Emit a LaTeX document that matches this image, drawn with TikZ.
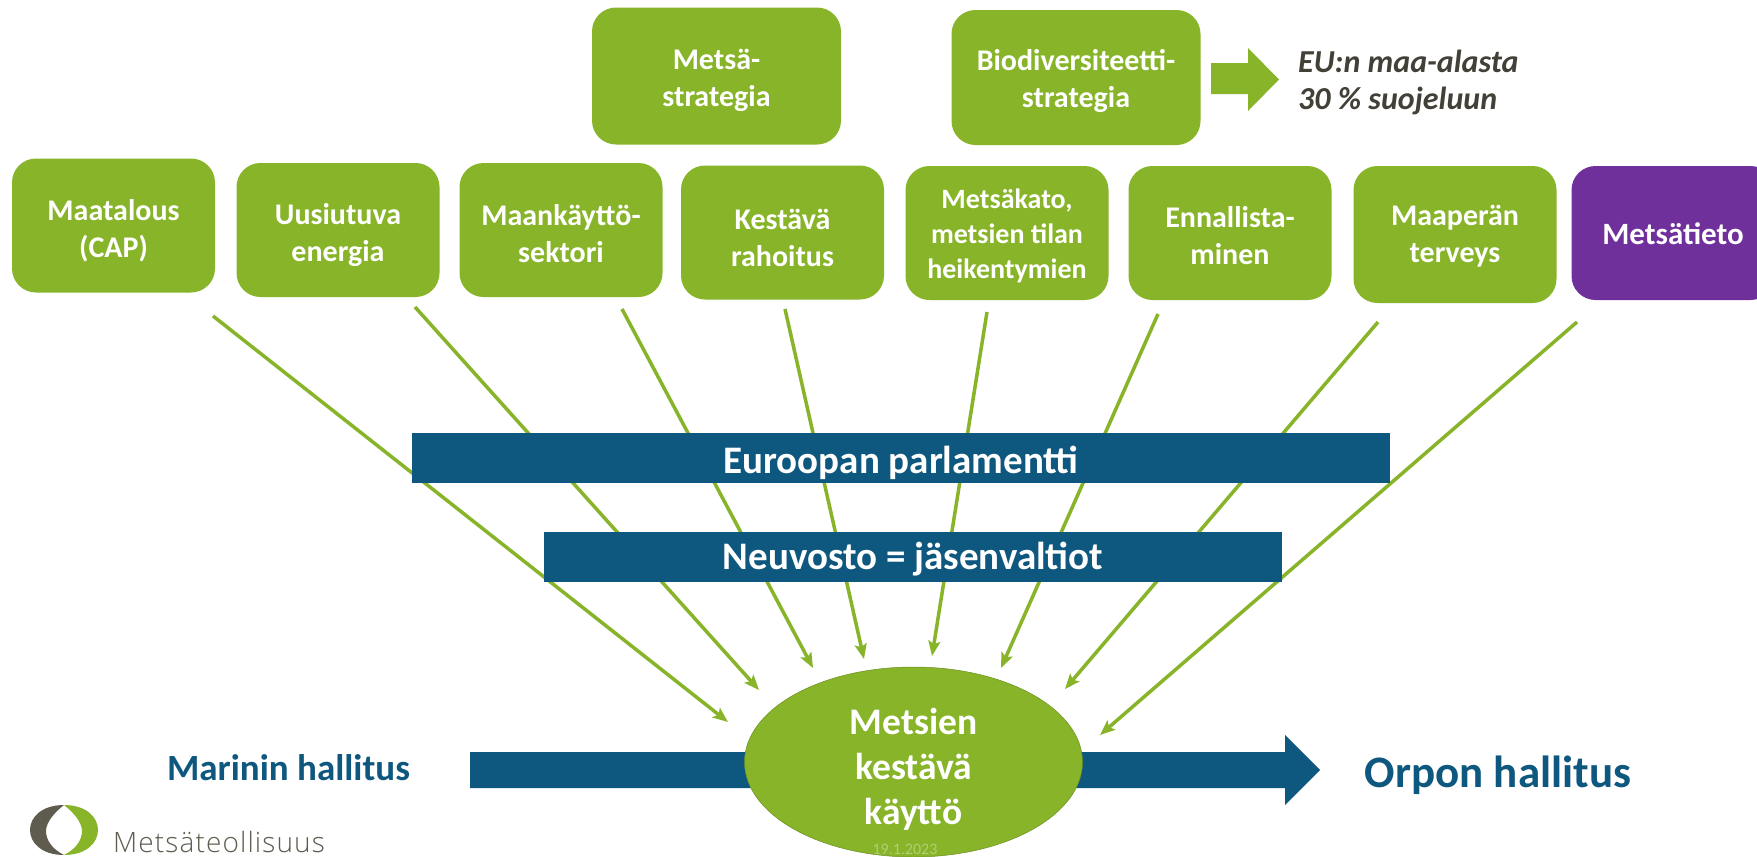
\documentclass[tikz,border=0pt]{standalone}
\usepackage{fontspec}
\setmainfont{Carlito}
\newfontfamily\logofont{Open Sans Light}[LetterSpace=4]
\usetikzlibrary{arrows.meta,shapes.geometric}
\definecolor{lgreen}{HTML}{87B428}
\definecolor{lblue}{HTML}{0E577E}
\definecolor{lpurple}{HTML}{70309B}
\definecolor{lgrey}{HTML}{5F5C4F}
% text lowered by #2 points, without changing the size the node sees
\newcommand\lowered[3][200pt]{\raisebox{-#2pt}[\height][\depth]{\parbox{#1}{\centering #3}}}
\tikzset{
 x=1pt,y=-1pt,
 boxbase/.style={rectangle,rounded corners=24pt,fill=lgreen,text=white,align=center,inner sep=0pt,
   minimum width=203pt,minimum height=134pt,font=\fontsize{30}{37}\selectfont\bfseries},
 topbox/.style={boxbase,minimum width=249pt,minimum height=137pt},
 bar/.style={rectangle,fill=lblue,text=white,inner sep=0pt,font=\fontsize{39}{44}\selectfont\bfseries},
 feed/.style={draw=lgreen,line width=3.5pt,-{Stealth[length=15pt,width=12pt,inset=3pt]}},
 bluelabel/.style={text=lblue,inner sep=0pt,font=\bfseries},
}
\begin{document}
\begin{tikzpicture}
\clip (0,0) rectangle (1757,857);
\fill[white] (0,0) rectangle (1757,857);
% connectors' free ends
\coordinate (s1) at (213,316); \coordinate (e1) at (728,722);
\coordinate (s2) at (415,307); \coordinate (e2) at (759,690);
\coordinate (s3) at (622,309); \coordinate (e3) at (813,668);
\coordinate (s4) at (785,309); \coordinate (e4) at (864,659);
\coordinate (s5) at (987,312); \coordinate (e5) at (932,656);
\coordinate (s6) at (1158,314); \coordinate (e6) at (1001,668);
\coordinate (s7) at (1378,322); \coordinate (e7) at (1065,689);
\coordinate (s8) at (1577,322); \coordinate (e8) at (1100,735);
\foreach \i in {1,...,8}{\draw[feed] (s\i) -- (e\i);}
% boxes
\node[boxbase] (maa) at (113.5,225.5) {\lowered{5}{Maatalous\\(CAP)}};
\node[boxbase] (uus) at (338,230) {\lowered{5}{Uusiutuva\\energia}};
\node[boxbase] (mkt) at (561,230) {\lowered{4}{Maankäyttö-\\sektori}};
\node[boxbase] (kes) at (782.5,232.5) {\lowered{5}{Kestävä\\rahoitus}};
\node[boxbase,font=\fontsize{28}{35}\selectfont\bfseries] (mka) at (1007,233) {\lowered{3}{Metsäkato,\\metsien tilan\\heikentymien}};
\node[boxbase] (enn) at (1230,233) {\lowered{3}{Ennallista-\\minen}};
\node[boxbase,minimum height=137pt] (mpt) at (1455,234.5) {\lowered{2}{Maaperän\\terveys}};
\node[boxbase,fill=lpurple,font=\fontsize{31}{37}\selectfont\bfseries] (mti) at (1673,233) {\lowered{1}{Metsätieto}};
\node[topbox] (mst) at (716.5,76) {\lowered{4}{Metsä-\\strategia}};
\node[topbox,minimum height=135pt] (bio) at (1076,77.5) {\lowered{3}{Biodiversiteetti-\\strategia}};
% small arrow
\fill[lgreen] (1211,63) -- (1248,63) -- (1248,48) -- (1279,79.5) -- (1248,111) -- (1248,94) -- (1211,94) -- cycle;
\node[text=lgrey!70!black,align=left,anchor=west,inner sep=0pt,font=\fontsize{32}{37}\selectfont\bfseries\itshape] (eu) at (1298,82.5) {EU:n maa-alasta\\30 \% suojeluun};
% bars
\node[bar,minimum width=978pt,minimum height=50pt] (ep) at (901,458) {\lowered[500pt]{5}{Euroopan parlamentti}};
\node[bar,minimum width=738pt,minimum height=50pt] (neu) at (913,556.5) {\lowered[500pt]{3}{Neuvosto = jäsenvaltiot}};
% main arrow
\fill[lblue] (470,752) -- (1285,752) -- (1285,735) -- (1320,770) -- (1285,805) -- (1285,788) -- (470,788) -- cycle;
% ellipse
\node[ellipse,fill=lgreen,draw=lgreen!80!black,line width=0.5pt,minimum width=338pt,minimum height=190pt,inner sep=0pt,text=white,align=center,font=\fontsize{37.5}{45}\selectfont\bfseries] (kay) at (913.5,762) {\lowered[140pt]{7}{Metsien\\kestävä\\käyttö}};
\node[text=white!35!lgreen,inner sep=0pt,font=\fontsize{16}{18}\selectfont] (date) at (905,849) {19.1.2023};
% side labels
\node[bluelabel,font=\fontsize{37}{42}\selectfont\bfseries] (mar) at (288.5,768) {Marinin hallitus};
\node[bluelabel,font=\fontsize{45}{50}\selectfont\bfseries] (orp) at (1498,775) {Orpon hallitus};
% logo
\fill[lgrey] (64,805) .. controls (42,805) and (30,817) .. (30,830) .. controls (30,843) and (42,855) .. (64,855) .. controls (52,849) and (46,840) .. (46,831) .. controls (46,822) and (55,812) .. (64,805) -- cycle;
\fill[lgreen] (64,805) .. controls (86,805) and (98,817) .. (98,830) .. controls (98,843) and (86,855) .. (64,855) .. controls (76,849) and (82,840) .. (82,831) .. controls (82,822) and (73,812) .. (64,805) -- cycle;
\node[text=lgrey,anchor=base west,inner sep=0pt,font=\fontsize{28}{30}\logofont] (logo) at (113,852) {Metsäteollisuus};
\end{tikzpicture}
\end{document}
